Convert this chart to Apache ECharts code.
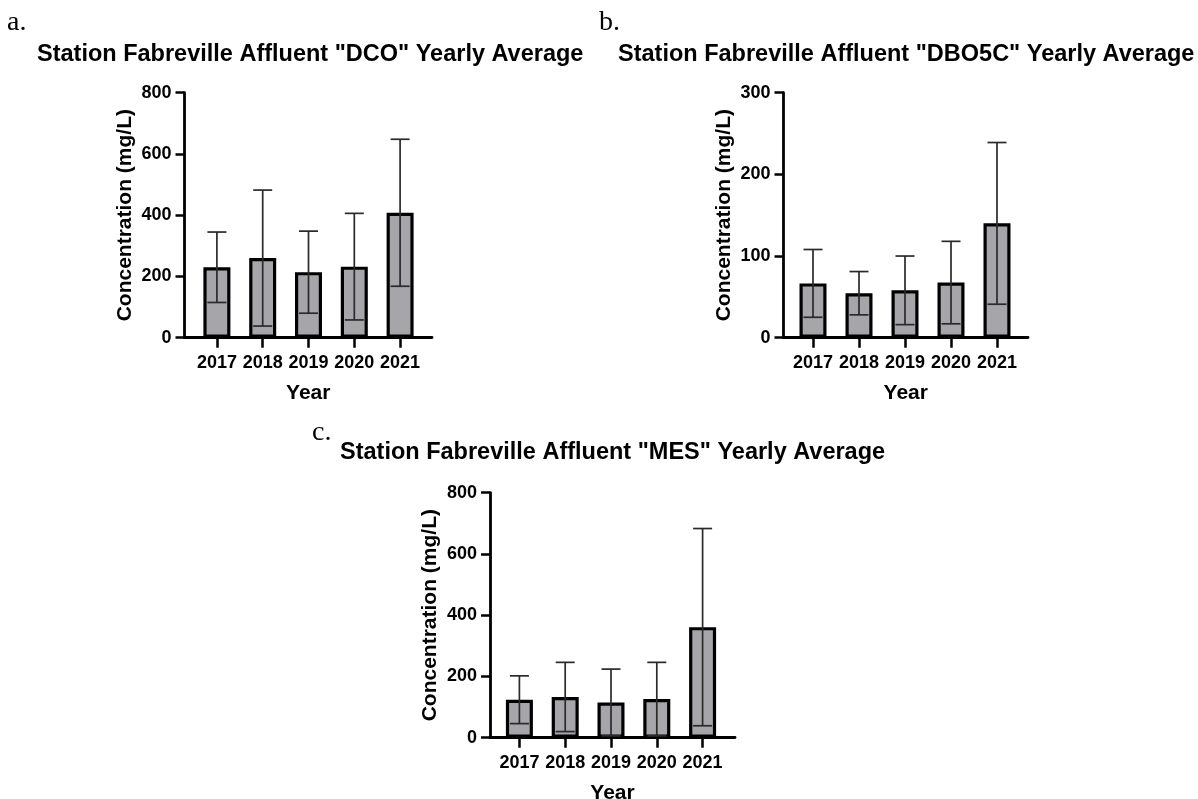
<!DOCTYPE html>
<html>
<head>
<meta charset="utf-8">
<script src="https://cdn.jsdelivr.net/npm/echarts@6/dist/echarts.min.js"></script>
<style>
html,body{margin:0;padding:0;background:#fff;}
#chart{width:1198px;height:799px;}
</style>
</head>
<body>
<div id="chart"></div>
<script>
// ---- data ----
const years = ['2017', '2018', '2019', '2020', '2021'];
const dcoMean = [230, 260, 214, 232, 408];
const dcoErr  = [115, 222, 134, 174, 240];
const dboMean = [66.5, 54.5, 58, 67.5, 140];
const dboErr  = [41.5, 26.5, 42, 50.5, 99];
const mesMean = [124, 133, 115, 126, 361];
const mesErr  = [78, 113, 109, 120, 322];
const panelLetters = ['a.', 'b.', 'c.'];
const titles = [
  'Station Fabreville Affluent "DCO" Yearly Average',
  'Station Fabreville Affluent "DBO5C" Yearly Average',
  'Station Fabreville Affluent "MES" Yearly Average'
];
const yMax = [800, 300, 800];
const yInterval = [200, 100, 200];
const yName = 'Concentration (mg/L)';
const xName = 'Year';

// ---- layout ----
const panels = [
  {means: dcoMean, errs: dcoErr, axisLeft: 184.5, innerLeft: 194, innerRight: 423, axisRight: 432, top: 92.7, bottom: 337.7,
   titleLeft: 37, titleTop: 43, letterLeft: 7, letterTop: 9},
  {means: dboMean, errs: dboErr, axisLeft: 783.5, innerLeft: 790, innerRight: 1020, axisRight: 1028, top: 92.7, bottom: 337.7,
   titleLeft: 618, titleTop: 43, letterLeft: 599, letterTop: 9},
  {means: mesMean, errs: mesErr, axisLeft: 490, innerLeft: 496.5, innerRight: 725.5, axisRight: 735, top: 492.7, bottom: 737.7,
   titleLeft: 340, titleTop: 441, letterLeft: 312, letterTop: 419}
];

const FONT = 'Liberation Sans, Arial, sans-serif';
const grids = [], xAxes = [], yAxes = [], series = [], titleArr = [];

panels.forEach((p, k) => {
  const frameIdx = grids.length;
  grids.push({left: p.axisLeft, top: p.top, width: p.axisRight - p.axisLeft, height: p.bottom - p.top,
    containLabel: false, outerBoundsMode: 'none'});
  const innerIdx = grids.length;
  grids.push({left: p.innerLeft, top: p.top, width: p.innerRight - p.innerLeft, height: p.bottom - p.top,
    containLabel: false, outerBoundsMode: 'none'});

  // frame axes: axis lines, y labels, names
  xAxes.push({
    gridIndex: frameIdx, type: 'value', min: 0, max: 1,
    axisLine: {show: true, onZero: false, lineStyle: {color: '#000', width: 2.8}},
    axisTick: {show: false}, axisLabel: {show: false}, splitLine: {show: false},
    name: xName, nameLocation: 'middle', nameGap: 45,
    nameTextStyle: {fontFamily: FONT, fontWeight: 'bold', fontSize: 21, color: '#000'}
  });
  yAxes.push({
    gridIndex: frameIdx, type: 'value', min: 0, max: yMax[k], interval: yInterval[k],
    axisLine: {show: true, lineStyle: {color: '#000', width: 2.8}},
    axisTick: {show: true, length: 9, lineStyle: {color: '#000', width: 2.5}},
    axisLabel: {margin: 13, fontFamily: FONT, fontWeight: 'bold', fontSize: 18, color: '#000'},
    splitLine: {show: false},
    name: yName, nameLocation: 'middle', nameGap: 49,
    nameTextStyle: {fontFamily: FONT, fontWeight: 'bold', fontSize: 21, color: '#000'}
  });
  // inner axes: categories
  xAxes.push({
    gridIndex: innerIdx, type: 'category', data: years,
    axisLine: {show: false},
    axisTick: {show: true, alignWithLabel: true, length: 10, lineStyle: {color: '#000', width: 2.5}},
    axisLabel: {interval: 0, margin: 16, fontFamily: FONT, fontWeight: 'bold', fontSize: 18, color: '#000'}
  });
  yAxes.push({gridIndex: innerIdx, type: 'value', min: 0, max: yMax[k], interval: yInterval[k], show: false});

  const xi = xAxes.length - 1, yi = yAxes.length - 1;
  series.push({
    type: 'bar', xAxisIndex: xi, yAxisIndex: yi, data: p.means, barWidth: 27,
    itemStyle: {color: '#a6a6aa', borderColor: '#000', borderWidth: 3.2}, z: 2
  });
  series.push({
    type: 'custom', xAxisIndex: xi, yAxisIndex: yi, z: 3,
    data: p.means.map((m, i) => [i, m, p.errs[i]]),
    encode: {x: 0, y: 1},
    renderItem: (params, api) => {
      const i = api.value(0), m = api.value(1), e = api.value(2);
      const hi = api.coord([i, m + e]);
      const lo = api.coord([i, m - e]);
      const cap = 9.5;
      const st = {stroke: '#2a2a2a', lineWidth: 1.7};
      return {type: 'group', children: [
        {type: 'line', shape: {x1: hi[0], y1: hi[1], x2: lo[0], y2: lo[1]}, style: st},
        {type: 'line', shape: {x1: hi[0] - cap, y1: hi[1], x2: hi[0] + cap, y2: hi[1]}, style: st},
        {type: 'line', shape: {x1: lo[0] - cap, y1: lo[1], x2: lo[0] + cap, y2: lo[1]}, style: st}
      ]};
    }
  });

  titleArr.push({text: titles[k], left: p.titleLeft, top: p.titleTop, padding: 0,
    textStyle: {fontFamily: FONT, fontWeight: 'bold', fontSize: 23.5, color: '#000'}});
  titleArr.push({text: panelLetters[k], left: p.letterLeft, top: p.letterTop, padding: 0,
    textStyle: {fontFamily: 'Liberation Serif, Times New Roman, serif', fontWeight: 'normal', fontSize: 28, color: '#000'}});
});

const chart = echarts.init(document.getElementById('chart'));
chart.setOption({
  backgroundColor: '#fff',
  animation: false,
  title: titleArr,
  grid: grids,
  xAxis: xAxes,
  yAxis: yAxes,
  series: series
});
</script>
</body>
</html>
